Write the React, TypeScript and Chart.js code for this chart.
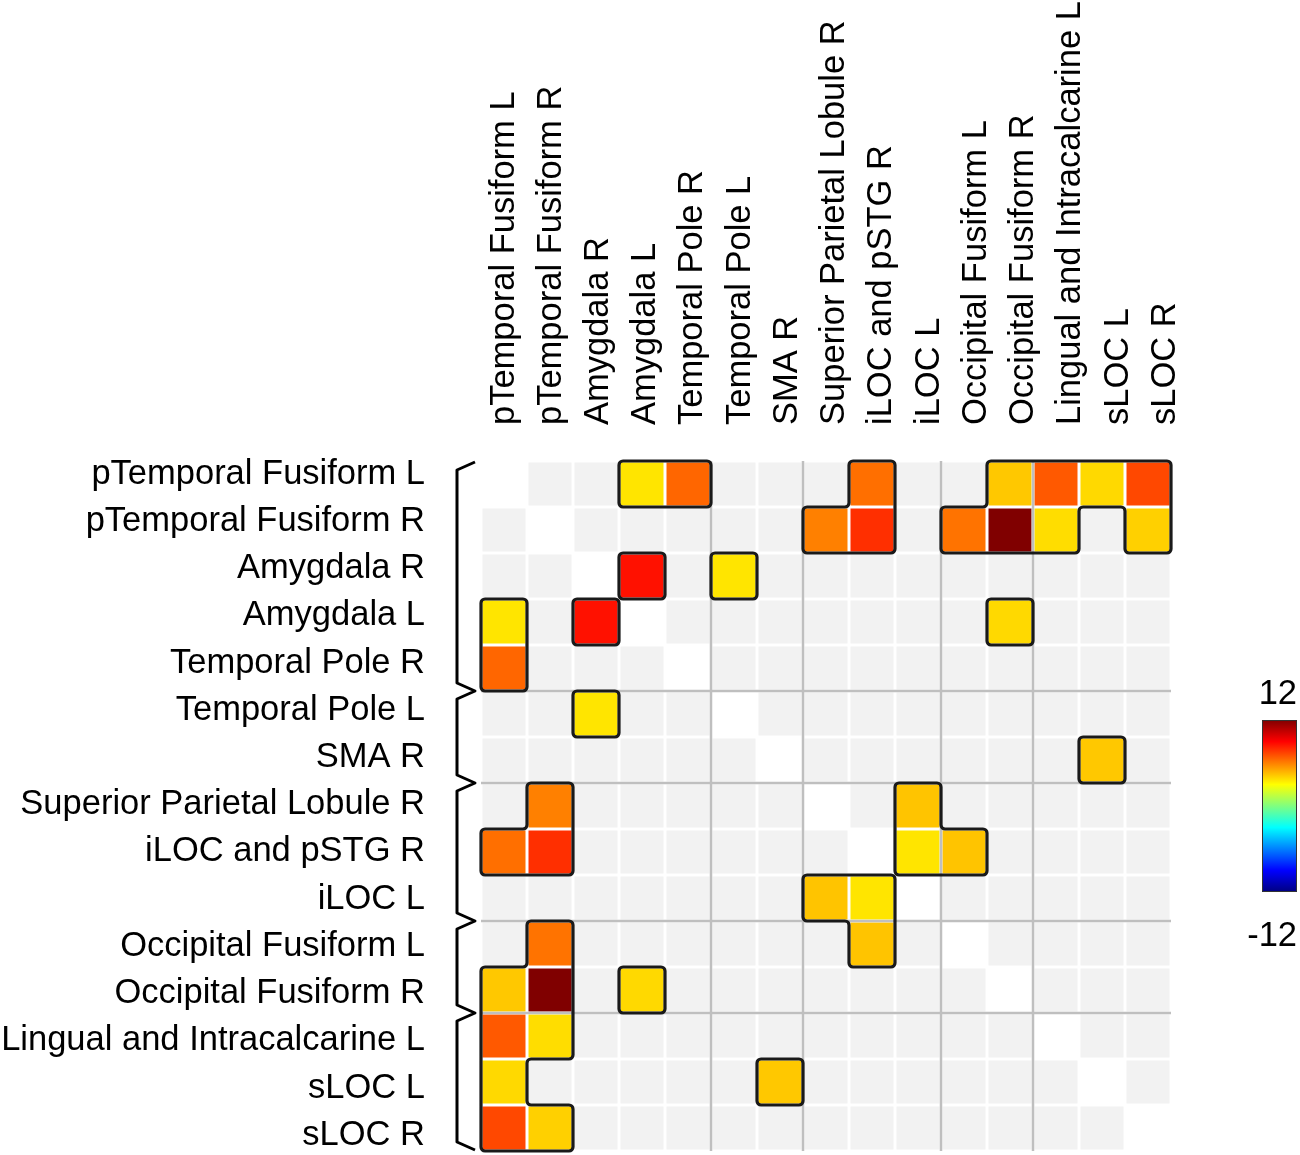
import { useEffect, useRef } from "react";
import { Chart, registerables } from "chart.js";

Chart.register(...registerables);

// ---------- data ----------
const regions = [
  "pTemporal Fusiform L",
  "pTemporal Fusiform R",
  "Amygdala R",
  "Amygdala L",
  "Temporal Pole R",
  "Temporal Pole L",
  "SMA R",
  "Superior Parietal Lobule R",
  "iLOC and pSTG R",
  "iLOC L",
  "Occipital Fusiform L",
  "Occipital Fusiform R",
  "Lingual and Intracalcarine L",
  "sLOC L",
  "sLOC R",
];

// network boundaries (index of first region of each new group)
const groupBreaks = [5, 7, 10, 12];

// significant connections (symmetric matrix), T values
const linkRow = [0, 0, 0, 0, 0, 0, 0, 1, 1, 1, 1, 1, 1, 2, 2, 3, 6, 7, 8, 8];
const linkCol = [3, 4, 8, 11, 12, 13, 14, 7, 8, 10, 11, 12, 14, 3, 5, 11, 13, 9, 9, 10];
const linkT = [3.6, 6.6, 6.4, 4.3, 6.9, 3.9, 7.3, 6.0, 7.9, 6.3, 12.0, 3.8, 4.1, 8.6, 3.6, 3.9, 4.3, 4.4, 3.6, 4.4];

const colorbarMin = -12;
const colorbarMax = 12;
const colorbarLabels = ["12", "-12"];

// ---------- style ----------
const FONT = "Arial, 'Liberation Sans', Helvetica, sans-serif";
const FONT_SIZE = 34.5;
const LABEL_PITCH = 1.027; // label spacing relative to cell size (as in the original figure)
const ROW_LABEL_START = 0.283;
const COL_LABEL_START = 0;

// ---------- helpers ----------
const N = regions.length;

const matrix: (number | null)[][] = regions.map(() => regions.map(() => null));
linkRow.forEach((r, k) => {
  const c = linkCol[k];
  matrix[r][c] = linkT[k];
  matrix[c][r] = linkT[k];
});

function clamp01(v: number) {
  return Math.max(0, Math.min(1, v));
}
function jet(t: number) {
  const r = clamp01(1.5 - Math.abs(4 * t - 3));
  const g = clamp01(1.5 - Math.abs(4 * t - 2));
  const b = clamp01(1.5 - Math.abs(4 * t - 1));
  return `rgb(${Math.round(r * 255)},${Math.round(g * 255)},${Math.round(b * 255)})`;
}
function cellFill(r: number, c: number) {
  if (r === c) return "#ffffff";
  const v = matrix[r][c];
  if (v === null) return "#f2f2f2";
  return jet((v - colorbarMin) / (colorbarMax - colorbarMin));
}
function isSig(r: number, c: number) {
  return r >= 0 && c >= 0 && r < N && c < N && matrix[r][c] !== null;
}

// trace outlines of connected significant regions (grid coordinates)
function traceLoops(): number[][][] {
  type E = { x0: number; y0: number; x1: number; y1: number; used: boolean };
  const edges: E[] = [];
  for (let r = 0; r < N; r++) {
    for (let c = 0; c < N; c++) {
      if (!isSig(r, c)) continue;
      if (!isSig(r - 1, c)) edges.push({ x0: c, y0: r, x1: c + 1, y1: r, used: false });
      if (!isSig(r, c + 1)) edges.push({ x0: c + 1, y0: r, x1: c + 1, y1: r + 1, used: false });
      if (!isSig(r + 1, c)) edges.push({ x0: c + 1, y0: r + 1, x1: c, y1: r + 1, used: false });
      if (!isSig(r, c - 1)) edges.push({ x0: c, y0: r + 1, x1: c, y1: r, used: false });
    }
  }
  const byStart = new Map<string, E[]>();
  edges.forEach((e) => {
    const k = e.x0 + "," + e.y0;
    if (!byStart.has(k)) byStart.set(k, []);
    byStart.get(k)!.push(e);
  });
  const loops: number[][][] = [];
  for (const start of edges) {
    if (start.used) continue;
    const pts: number[][] = [];
    let cur: E = start;
    while (true) {
      cur.used = true;
      pts.push([cur.x0, cur.y0]);
      const dx = cur.x1 - cur.x0;
      const dy = cur.y1 - cur.y0;
      const cands = (byStart.get(cur.x1 + "," + cur.y1) || []).filter((e) => !e.used || e === start);
      if (cands.length === 0) break;
      const score = (e: E) => {
        const ex = e.x1 - e.x0;
        const ey = e.y1 - e.y0;
        if (ex === -dy && ey === dx) return 0; // right turn
        if (ex === dx && ey === dy) return 1; // straight
        return 2; // left turn
      };
      cands.sort((a, b) => score(a) - score(b));
      const nxt = cands[0];
      if (nxt === start) break;
      cur = nxt;
    }
    const simp: number[][] = [];
    for (let i = 0; i < pts.length; i++) {
      const p = pts[(i - 1 + pts.length) % pts.length];
      const q = pts[i];
      const s = pts[(i + 1) % pts.length];
      const cross = (q[0] - p[0]) * (s[1] - q[1]) - (q[1] - p[1]) * (s[0] - q[0]);
      if (cross !== 0) simp.push(q);
    }
    loops.push(simp);
  }
  return loops;
}
const outlineLoops = traceLoops();

const matrixDecor = {
  id: "matrixDecor",
  afterDatasetsDraw(chart: any) {
    const { ctx, scales } = chart;
    const xs = scales.x;
    const ys = scales.y;
    const X = (g: number) => xs.getPixelForValue(g - 0.5);
    const Y = (g: number) => ys.getPixelForValue(g);
    ctx.save();
    // network separator lines
    ctx.strokeStyle = "#bfbfbf";
    ctx.lineWidth = 2.5;
    groupBreaks.forEach((b) => {
      ctx.beginPath();
      ctx.moveTo(X(b), Y(0));
      ctx.lineTo(X(b), Y(N));
      ctx.stroke();
      ctx.beginPath();
      ctx.moveTo(X(0), Y(b));
      ctx.lineTo(X(N), Y(b));
      ctx.stroke();
    });
    // outlines of significant clusters
    ctx.strokeStyle = "#1a1a1a";
    ctx.lineWidth = 3.2;
    ctx.lineJoin = "round";
    const R = 4;
    outlineLoops.forEach((loop) => {
      const P = loop.map((p) => [X(p[0]), Y(p[1])]);
      const n = P.length;
      if (n < 3) return;
      ctx.beginPath();
      const last = P[n - 1];
      ctx.moveTo((last[0] + P[0][0]) / 2, (last[1] + P[0][1]) / 2);
      for (let i = 0; i < n; i++) {
        const a = P[i];
        const b = P[(i + 1) % n];
        ctx.arcTo(a[0], a[1], (a[0] + b[0]) / 2, (a[1] + b[1]) / 2, R);
      }
      ctx.closePath();
      ctx.stroke();
    });
    ctx.restore();
  },
  afterDraw(chart: any) {
    const { ctx, scales, chartArea } = chart;
    const ys = scales.y;
    const Y = (g: number) => ys.getPixelForValue(g);
    ctx.save();
    // group brackets
    const xL = chartArea.left - 24;
    const xT = chartArea.left - 6;
    ctx.strokeStyle = "#000";
    ctx.lineWidth = 3;
    ctx.lineJoin = "round";
    ctx.lineCap = "butt";
    ctx.beginPath();
    ctx.moveTo(xT, Y(0) + 1);
    ctx.lineTo(xL, Y(0) + 9);
    groupBreaks.forEach((b) => {
      ctx.lineTo(xL, Y(b) - 8);
      ctx.lineTo(xT, Y(b));
      ctx.lineTo(xL, Y(b) + 8);
    });
    ctx.lineTo(xL, Y(N) - 9);
    ctx.lineTo(xT, Y(N) - 1);
    ctx.stroke();

    // colour bar
    const cx0 = chartArea.right + 91;
    const cw = 35;
    const cy0 = chartArea.top + 259;
    const ch = 172;
    const grad = ctx.createLinearGradient(0, cy0 + ch, 0, cy0);
    [0, 0.125, 0.375, 0.625, 0.875, 1].forEach((t) => grad.addColorStop(t, jet(t)));
    ctx.fillStyle = grad;
    ctx.fillRect(cx0, cy0, cw, ch);
    ctx.strokeStyle = "#333";
    ctx.lineWidth = 1;
    ctx.strokeRect(cx0 + 0.5, cy0 + 0.5, cw - 1, ch - 1);
    ctx.fillStyle = "#000";
    ctx.font = `${FONT_SIZE}px ${FONT}`;
    ctx.textAlign = "right";
    ctx.textBaseline = "alphabetic";
    ctx.fillText(colorbarLabels[0], cx0 + cw, cy0 - 16);
    ctx.fillText(colorbarLabels[1], cx0 + cw, cy0 + ch + 54);
    ctx.restore();
  },
};

export default function App() {
  const ref = useRef<HTMLCanvasElement | null>(null);
  useEffect(() => {
    if (!ref.current) return;
    const datasets = regions.map((name, r) => ({
      label: name,
      data: regions.map(() => [r, r + 1]),
      backgroundColor: regions.map((_, c) => cellFill(r, c)),
      borderColor: "#ffffff",
      borderWidth: 1.5,
      borderSkipped: false,
      inflateAmount: 0,
      grouped: false,
      barPercentage: 1,
      categoryPercentage: 1,
    }));
    const chart = new Chart(ref.current, {
      type: "bar",
      data: { labels: regions, datasets: datasets as any },
      options: {
        animation: false,
        responsive: true,
        maintainAspectRatio: false,
        layout: { padding: { left: 0, top: 0, right: 129, bottom: 4 } },
        plugins: { legend: { display: false }, tooltip: { enabled: false } },
        events: [],
        scales: {
          x: {
            type: "category",
            position: "top",
            offset: true,
            grid: { display: false, drawTicks: false, tickLength: 0 },
            border: { display: false },
            afterBuildTicks: (scale: any) => {
              scale.ticks = regions.map((_, j) => ({ value: COL_LABEL_START + j * LABEL_PITCH }));
            },
            afterFit: (scale: any) => {
              scale.height = 461;
              scale.paddingLeft = 0;
              scale.paddingRight = 0;
            },
            ticks: {
              autoSkip: false,
              minRotation: 90,
              maxRotation: 90,
              padding: 36,
              labelOffset: FONT_SIZE * 1.2,
              color: "#000",
              font: { family: FONT, size: FONT_SIZE },
              callback: (_v: any, idx: number) => regions[idx],
            },
          },
          y: {
            type: "linear",
            min: 0,
            max: N,
            reverse: true,
            grid: { display: false, drawTicks: false, tickLength: 0 },
            border: { display: false },
            afterBuildTicks: (scale: any) => {
              scale.ticks = regions.map((_, i) => ({ value: ROW_LABEL_START + i * LABEL_PITCH }));
            },
            afterFit: (scale: any) => {
              scale.width = 481;
              scale.paddingTop = 0;
              scale.paddingBottom = 0;
            },
            ticks: {
              autoSkip: false,
              padding: 56,
              color: "#000",
              font: { family: FONT, size: FONT_SIZE },
              callback: (_v: any, idx: number) => regions[idx],
            },
          },
        },
      } as any,
      plugins: [matrixDecor],
    });
    return () => chart.destroy();
  }, []);
  return (
    <div style={{ position: "absolute", left: 0, top: 0, width: 1300, height: 1155, background: "#fff" }}>
      <canvas ref={ref} />
    </div>
  );
}
